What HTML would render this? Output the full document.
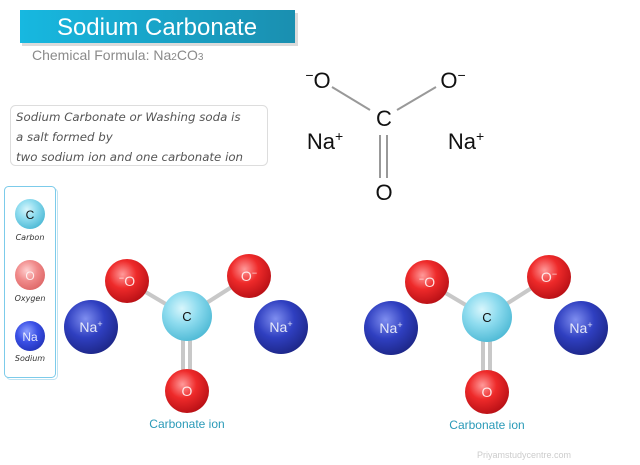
<!DOCTYPE html>
<html><head><meta charset="utf-8"><style>
html,body{margin:0;padding:0;background:#fff;width:640px;height:465px;overflow:hidden}
svg{display:block}
</style></head><body>
<svg width="640" height="465" viewBox="0 0 640 465" xmlns="http://www.w3.org/2000/svg" font-family="Liberation Sans, sans-serif">
<defs>
<linearGradient id="ban" x1="0" x2="1"><stop offset="0" stop-color="#17b8e0"/><stop offset="1" stop-color="#1a8fb0"/></linearGradient>
<radialGradient id="gC" cx="0.4" cy="0.35" r="0.7"><stop offset="0" stop-color="#d8f6fc"/><stop offset="0.45" stop-color="#8fdcef"/><stop offset="1" stop-color="#4bb8d4"/></radialGradient>
<radialGradient id="gO" cx="0.4" cy="0.35" r="0.7"><stop offset="0" stop-color="#ff9a9a"/><stop offset="0.45" stop-color="#ee2a2a"/><stop offset="1" stop-color="#b50e14"/></radialGradient>
<radialGradient id="gOl" cx="0.4" cy="0.35" r="0.7"><stop offset="0" stop-color="#ffd0d0"/><stop offset="0.5" stop-color="#f08a8a"/><stop offset="1" stop-color="#d66"/></radialGradient>
<radialGradient id="gN" cx="0.4" cy="0.35" r="0.7"><stop offset="0" stop-color="#7f8ef0"/><stop offset="0.5" stop-color="#2f3fc0"/><stop offset="1" stop-color="#1c2585"/></radialGradient>
<radialGradient id="gNl" cx="0.4" cy="0.35" r="0.7"><stop offset="0" stop-color="#8ea0ff"/><stop offset="0.5" stop-color="#3a50e6"/><stop offset="1" stop-color="#2233b8"/></radialGradient>
<g id="mol">
 <g stroke="#c8c8c8" stroke-width="4">
  <line x1="127" y1="281" x2="186" y2="316"/>
  <line x1="249" y1="276" x2="186" y2="316"/>
  <line x1="183" y1="316" x2="183" y2="390"/>
  <line x1="190" y1="316" x2="190" y2="390"/>
 </g>
 <circle cx="91" cy="327" r="27" fill="url(#gN)"/>
 <circle cx="281" cy="327" r="27" fill="url(#gN)"/>
 <circle cx="127" cy="281" r="22" fill="url(#gO)"/>
 <circle cx="249" cy="276" r="22" fill="url(#gO)"/>
 <circle cx="187" cy="316" r="25" fill="url(#gC)"/>
 <circle cx="187" cy="391" r="22" fill="url(#gO)"/>
 <g font-size="14" fill="#fff" text-anchor="middle" fill-opacity="0.85">
  <text x="127" y="286"><tspan font-size="9" dy="-5">−</tspan><tspan dy="5">O</tspan></text>
  <text x="249" y="281">O<tspan font-size="9" dy="-5">−</tspan></text>
  <text x="187" y="396">O</text>
  <text x="91" y="332">Na<tspan font-size="9" dy="-5">+</tspan></text>
  <text x="281" y="332">Na<tspan font-size="9" dy="-5">+</tspan></text>
 </g>
 <text x="187" y="321" font-size="13" fill="#111" text-anchor="middle">C</text>
 <text x="187" y="428" font-size="12" fill="#2a9ab8" text-anchor="middle">Carbonate ion</text>
</g>
</defs>
<rect x="22" y="13" width="276" height="33" fill="#999" opacity="0.35"/>
<rect x="20" y="10" width="275" height="33" fill="url(#ban)"/>
<text x="157" y="35" font-size="24" fill="#fff" text-anchor="middle">Sodium Carbonate</text>
<text x="32" y="60" font-size="14" fill="#8a8a8a">Chemical Formula: Na<tspan font-size="10">2</tspan>CO<tspan font-size="10">3</tspan></text>
<rect x="10.5" y="105.5" width="257" height="60" rx="5" fill="#fff" stroke="#ddd"/>
<g font-family="DejaVu Sans, sans-serif" font-style="italic" font-size="11.8" fill="#555">
<text x="16" y="121">Sodium Carbonate or Washing soda is</text>
<text x="16" y="141">a salt formed by</text>
<text x="16" y="161">two sodium ion and one carbonate ion</text>
</g>
<g stroke="#999" stroke-width="2">
<line x1="332" y1="87" x2="370" y2="110"/>
<line x1="397" y1="110" x2="436" y2="87"/>
<line x1="380" y1="135" x2="380" y2="178"/>
<line x1="387" y1="135" x2="387" y2="178"/>
</g>
<g font-size="22" fill="#111" text-anchor="middle">
<text x="318" y="88"><tspan font-size="14" dy="-8">−</tspan><tspan dy="8">O</tspan></text>
<text x="453" y="88">O<tspan font-size="14" dy="-8">−</tspan></text>
<text x="384" y="126">C</text>
<text x="384" y="200">O</text>
<text x="325" y="149">Na<tspan font-size="14" dy="-8">+</tspan></text>
<text x="466" y="149">Na<tspan font-size="14" dy="-8">+</tspan></text>
</g>
<rect x="6.5" y="188.5" width="51" height="191" rx="4" fill="#fff" stroke="#bfe3f2"/>
<rect x="4.5" y="186.5" width="51" height="191" rx="4" fill="#fff" stroke="#7ccbea"/>
<circle cx="30" cy="214" r="15" fill="url(#gC)"/>
<circle cx="30" cy="275" r="15" fill="url(#gOl)"/>
<circle cx="30" cy="336" r="15" fill="url(#gNl)"/>
<text x="30" y="219" font-size="12" text-anchor="middle" fill="#111">C</text>
<text x="30" y="280" font-size="12" text-anchor="middle" fill="#fff" fill-opacity="0.8">O</text>
<text x="30" y="341" font-size="12" text-anchor="middle" fill="#fff" fill-opacity="0.85">Na</text>
<g font-family="DejaVu Sans, sans-serif" font-style="italic" font-size="8" fill="#333" text-anchor="middle">
<text x="30" y="240">Carbon</text>
<text x="30" y="301">Oxygen</text>
<text x="30" y="361">Sodium</text>
</g>
<use href="#mol"/>
<use href="#mol" transform="translate(300,1)"/>
<text x="524" y="458" font-size="9" fill="#ccc" text-anchor="middle">Priyamstudycentre.com</text>
</svg>
</body></html>
